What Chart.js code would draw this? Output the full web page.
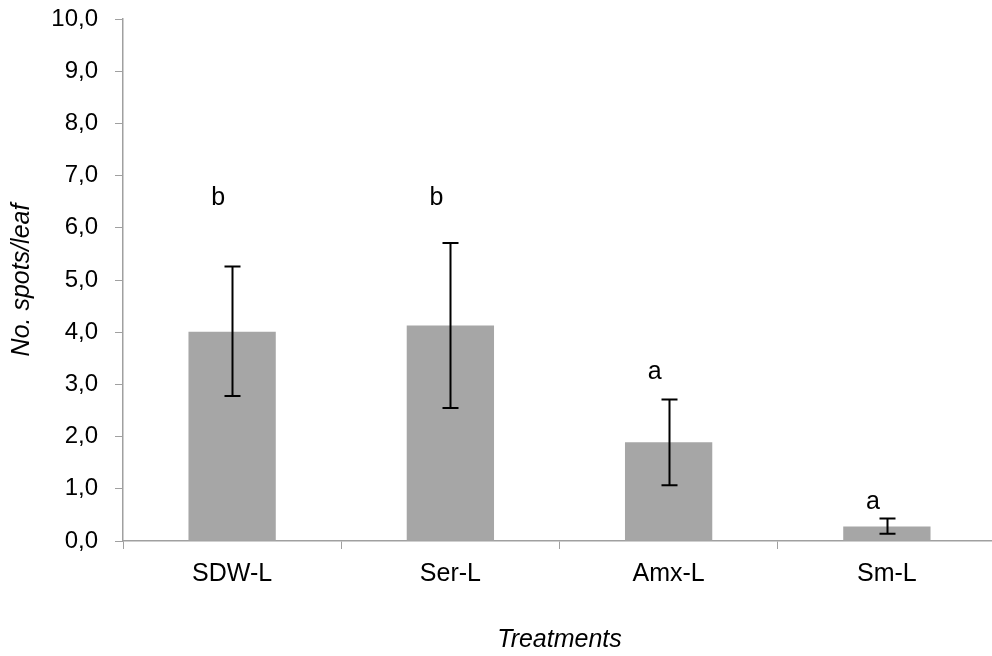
<!DOCTYPE html>
<html>
<head>
<meta charset="utf-8">
<script src="https://cdn.jsdelivr.net/npm/chart.js@4.4.1/dist/chart.umd.min.js"></script>
<style>
    html, body { margin: 0; padding: 0; background: #fff; overflow: hidden; }
</style>
</head>
<body>
<canvas id="myChart" width="1000" height="656"></canvas>
<script>
const treatments = ["SDW-L", "Ser-L", "Amx-L", "Sm-L"];
const spotsPerLeaf = [4.01, 4.13, 1.89, 0.28];
const errorLow = [2.78, 2.55, 1.07, 0.14];
const errorHigh = [5.26, 5.71, 2.71, 0.43];
const groupLetters = ["b", "b", "a", "a"];
const letterLevels = [6.57, 6.57, 3.24, 0.75];

const fontFamily = '"Liberation Sans", Arial, Helvetica, sans-serif';
const axisColor = "#a0a0a0";

// error bars and significance letters
const extrasPlugin = {
    id: "extras",
    afterDatasetsDraw(chart)
    {
        const ctx = chart.ctx;
        const x = chart.scales.x;
        const y = chart.scales.y;
        ctx.save();
        ctx.strokeStyle = "#000";
        ctx.lineWidth = 2;
        for (let i = 0; i < treatments.length; i++)
        {
            const cx = Math.round(x.getPixelForValue(i)) + 0.5;
            const top = y.getPixelForValue(errorHigh[i]);
            const bottom = y.getPixelForValue(errorLow[i]);
            ctx.beginPath();
            ctx.moveTo(cx, top);
            ctx.lineTo(cx, bottom);
            ctx.moveTo(cx - 8, top);
            ctx.lineTo(cx + 8, top);
            ctx.moveTo(cx - 8, bottom);
            ctx.lineTo(cx + 8, bottom);
            ctx.stroke();
        }
        ctx.fillStyle = "#000";
        ctx.font = "25px " + fontFamily;
        ctx.textAlign = "center";
        ctx.textBaseline = "middle";
        for (let i = 0; i < groupLetters.length; i++)
        {
            const cx = x.getPixelForValue(i) - 14;
            ctx.fillText(groupLetters[i], cx, y.getPixelForValue(letterLevels[i]));
        }
        ctx.restore();
    }
};

const chart = new Chart(document.getElementById("myChart"), {
    type: "bar",
    data: {
        labels: treatments,
        datasets: [{
            data: spotsPerLeaf,
            backgroundColor: "#a6a6a6",
            borderWidth: 0,
            categoryPercentage: 1,
            barPercentage: 0.4
        }]
    },
    options: {
        responsive: false,
        animation: false,
        layout: {
            padding: { top: 19, right: 4, bottom: 0, left: 0 }
        },
        plugins: {
            legend: { display: false },
            tooltip: { enabled: false }
        },
        scales: {
            x: {
                afterFit: function (scale) { scale.height = 115; },
                grid: {
                    drawOnChartArea: false,
                    drawTicks: true,
                    tickLength: 8,
                    color: axisColor
                },
                border: { color: axisColor, width: 1.5 },
                ticks: {
                    padding: 10,
                    color: "#000",
                    font: { family: fontFamily, size: 25 }
                },
                title: {
                    display: true,
                    text: "Treatments",
                    color: "#000",
                    padding: { top: 0, bottom: 1 },
                    font: { family: fontFamily, size: 25, style: "italic" }
                }
            },
            y: {
                min: 0,
                max: 10,
                afterFit: function (scale)
                {
                    scale.width = 123;
                    scale.paddingTop = 0;
                    scale.paddingBottom = 0;
                },
                grid: {
                    drawOnChartArea: false,
                    drawTicks: true,
                    tickLength: 8,
                    color: axisColor
                },
                border: { color: axisColor, width: 1.5 },
                ticks: {
                    stepSize: 1,
                    padding: 17,
                    color: "#000",
                    font: { family: fontFamily, size: 24 },
                    callback: function (value)
                    {
                        return value.toFixed(1).replace(".", ",");
                    }
                },
                title: {
                    display: true,
                    text: "No. spots/leaf",
                    color: "#000",
                    padding: { top: 7, bottom: 0 },
                    font: { family: fontFamily, size: 25, style: "italic" }
                }
            }
        }
    },
    plugins: [extrasPlugin]
});
</script>
</body>
</html>
